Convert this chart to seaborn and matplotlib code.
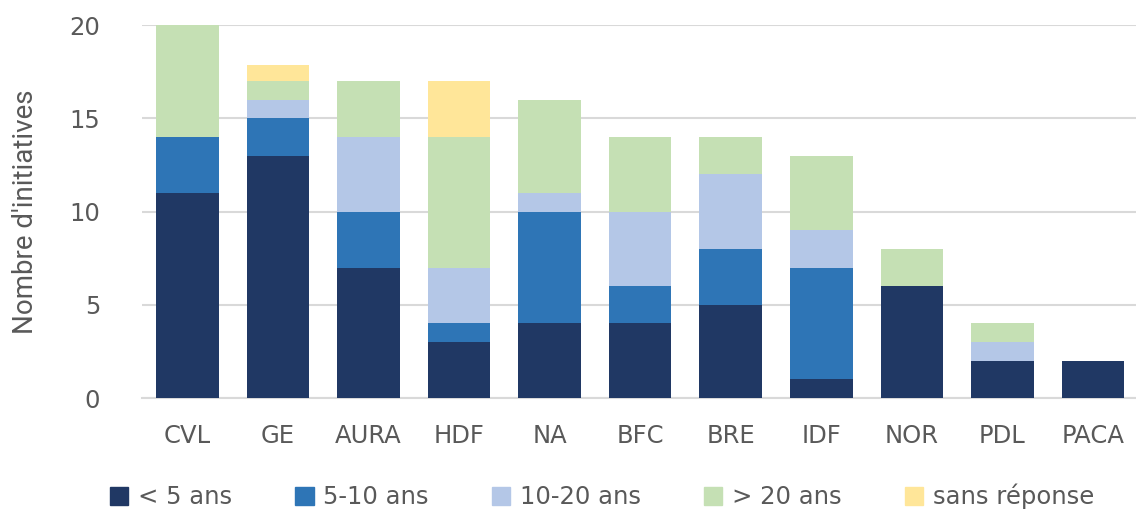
import numpy as np
import pandas as pd
import matplotlib
matplotlib.use("Agg")
import matplotlib.pyplot as plt
import seaborn as sns

regions = ["CVL", "GE", "AURA", "HDF", "NA", "BFC", "BRE", "IDF", "NOR", "PDL", "PACA"]
lt5 = [11, 13, 7, 3, 4, 4, 5, 1, 6, 2, 2]
y5_10 = [3, 2, 3, 1, 6, 2, 3, 6, 0, 0, 0]
y10_20 = [0, 1, 4, 3, 1, 4, 4, 2, 0, 1, 0]
gt20 = [6, 1, 3, 7, 5, 4, 2, 4, 2, 1, 0]
sans_rep = [0, 0.85, 0, 3, 0, 0, 0, 0, 0, 0, 0]

series_names = ["< 5 ans", "5-10 ans", "10-20 ans", "> 20 ans", "sans réponse"]
series_vals = [lt5, y5_10, y10_20, gt20, sans_rep]
colors = ["#203864", "#2E75B6", "#B4C7E7", "#C5E0B4", "#FFE699"]

sns.set_theme(style="white")
plt.rcParams["font.family"] = ["DejaVu Sans"]
txt = "#595959"

fig = plt.figure(figsize=(11.36, 5.13), dpi=100)
ax = fig.add_axes([0.125, 0.224, 0.877, 0.727])

bottom = np.zeros(len(regions))
for name, vals, col in zip(series_names, series_vals, colors):
    df = pd.DataFrame({"region": regions, "val": vals})
    sns.barplot(data=df, x="region", y="val", order=regions, color=col,
                bottom=bottom, width=0.69, ax=ax, label=name,
                edgecolor="none", linewidth=0, saturation=1, zorder=3)
    bottom = bottom + np.array(vals, dtype=float)

ax.set_ylim(0, 20)
ax.set_xlim(-0.5, 10.5)
ax.set_yticks([0, 5, 10, 15, 20])
ax.yaxis.grid(True, color="#D9D9D9", linewidth=1.5, zorder=0)
ax.set_axisbelow(True)
for s in ["top", "right", "left"]:
    ax.spines[s].set_visible(False)
ax.spines["bottom"].set_color("#D9D9D9")
ax.spines["bottom"].set_linewidth(1.5)
ax.tick_params(axis="both", length=0, labelsize=17.5, colors=txt)
ax.tick_params(axis="x", pad=19)
ax.tick_params(axis="y", pad=30)
ax.set_xlabel("")
ax.set_ylabel("Nombre d'initiatives", fontsize=20, color=txt,
              family=["Liberation Sans Narrow", "Roboto", "DejaVu Sans"], labelpad=22)
if ax.legend_:
    ax.legend_.remove()

handles = [plt.Rectangle((0, 0), 1, 1, color=c) for c in colors]
fig.legend(handles, series_names, loc="lower center", bbox_to_anchor=(0.53, -0.035),
           ncol=5, frameon=False, fontsize=17.5, handlelength=0.75, handleheight=0.75,
           columnspacing=2.6, handletextpad=0.4, labelcolor=txt)

fig.savefig("out.png", dpi=100)
